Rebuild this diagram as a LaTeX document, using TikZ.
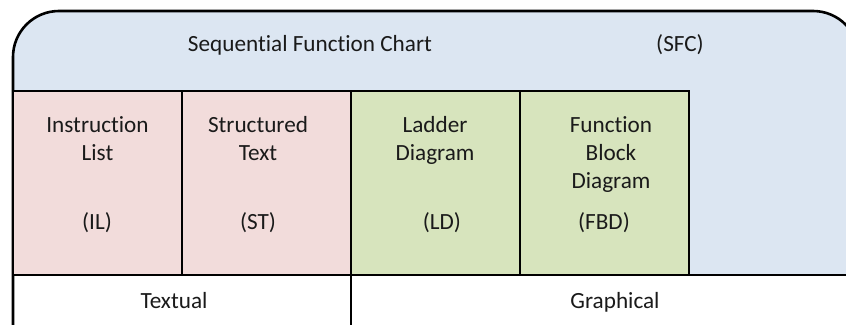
\documentclass[tikz,border=0pt]{standalone}
\usepackage{fontspec}
\setmainfont[Ligatures={NoCommon}]{Carlito}
\definecolor{sfcblue}{HTML}{DCE6F2}
\definecolor{txtpink}{HTML}{F2DCDB}
\definecolor{grgreen}{HTML}{D7E4BD}
\definecolor{ink}{HTML}{1A1A1A}
\begin{document}
\begin{tikzpicture}[x=1pt,y=-1pt,
  edge/.style={line width=2.6pt, draw=black},
  cell/.style={edge, fill=#1},
  lbl/.style={text=ink, font=\fontsize{23.2}{28}\selectfont, inner sep=0pt, align=center, anchor=base}
]
\useasboundingbox (0,0) rectangle (846,324);
\clip (0,0) rectangle (846,324);
\fill[white] (0,0) rectangle (846,324);
% SFC shape
\fill[sfcblue, rounded corners=46pt] (13,275) -- (13,11) -- (859,11) -- (859,275);
\draw[edge, rounded corners=46pt] (13,330) -- (13,11) -- (859,11) -- (859,330);
\draw[edge] (13,275) -- (846,275);
% cells
\draw[cell=txtpink] (13,91) rectangle (182,275);
\draw[cell=txtpink] (182,91) rectangle (351,275);
\draw[cell=grgreen] (351,91) rectangle (520,275);
\draw[cell=grgreen] (520,91) rectangle (689,275);
\draw[edge] (351,275) -- (351,330);
% texts
\node[lbl] (sfc) at (310,51.5) {Sequential Function Chart};
\node[lbl] (sfcab) at (680,51.5) {(SFC)};
\node[lbl] (il) at (97.5,160.5) {Instruction\\List};
\node[lbl] (ilab) at (97,229) {(IL)};
\node[lbl] (st) at (258,160.5) {Structured\\Text};
\node[lbl] (stab) at (258,229) {(ST)};
\node[lbl] (ld) at (435,160.5) {Ladder\\Diagram};
\node[lbl] (ldab) at (442,229) {(LD)};
\node[lbl] (fbd) at (611,188.5) {Function\\Block\\Diagram};
\node[lbl] (fbdab) at (604,229) {(FBD)};
\node[lbl] (textual) at (174,308.5) {Textual};
\node[lbl] (graph) at (615,308.5) {Graphical};
\end{tikzpicture}
\end{document}
